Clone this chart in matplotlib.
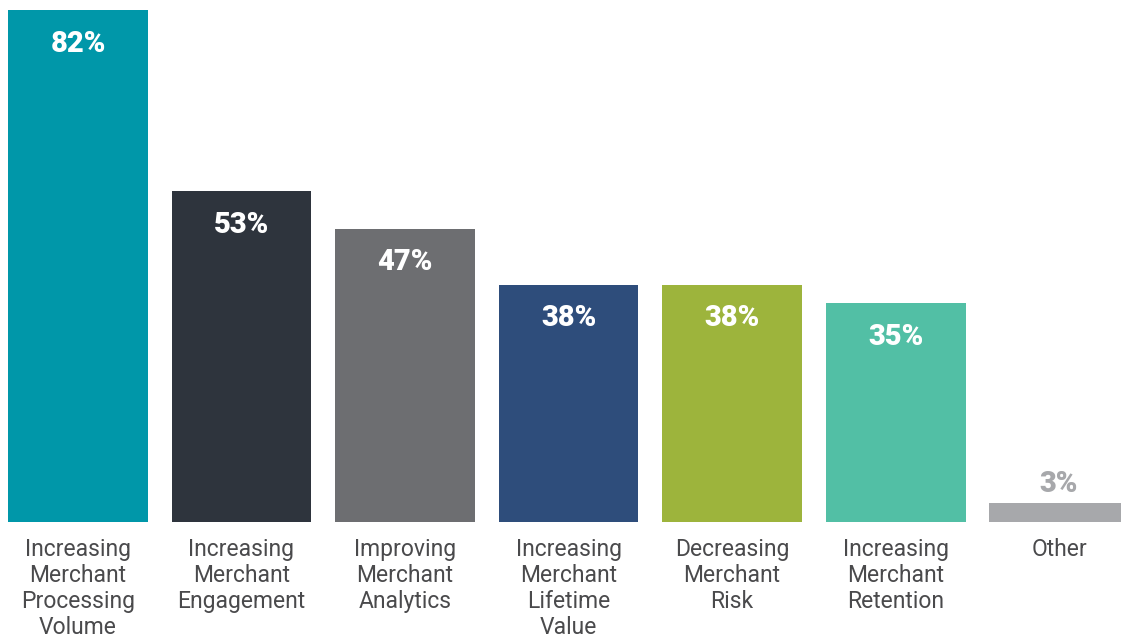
import matplotlib.pyplot as plt
import numpy as np

categories = [
    "Increasing\nMerchant\nProcessing\nVolume",
    "Increasing\nMerchant\nEngagement",
    "Improving\nMerchant\nAnalytics",
    "Increasing\nMerchant\nLifetime\nValue",
    "Decreasing\nMerchant\nRisk",
    "Increasing\nMerchant\nRetention",
    "Other",
]
values = [82, 53, 47, 38, 38, 35, 3]
colors = ["#0097A9", "#2E343D", "#6D6E71", "#2E4D7B", "#9DB43C", "#52BFA5", "#A7A8AB"]

plt.rcParams['font.family'] = ['Roboto', 'DejaVu Sans']

fig = plt.figure(figsize=(11.21, 6.36), dpi=100)
fig.patch.set_facecolor('white')
ax = fig.add_axes([0, 114 / 636, 1, 522 / 636])

x = np.arange(len(values))
ax.bar(x, values, width=0.856, color=colors)

ax.set_xlim(-0.477, 6.379)
ax.set_ylim(0, 82 * 522 / 512)
ax.axis('off')

# percentage labels: inside the bar for tall bars, above it for the small one
for xi, v in zip(x, values):
    if v > 10:
        ax.annotate(f"{v}%", (xi, v), xytext=(0, -24.3), textcoords='offset points',
                    ha='center', va='center', color='white', fontsize=21,
                    fontweight='heavy')
    else:
        ax.annotate(f"{v}%", (xi, v), xytext=(0, 14.0), textcoords='offset points',
                    ha='center', va='center', color='#A7A8AB', fontsize=21,
                    fontweight='heavy')

# category names under the baseline
for xi, name in zip(x, categories):
    ax.annotate(name, (xi, 0), xytext=(0, -11.5), textcoords='offset points',
                ha='center', va='top', color='#4A4A4C', fontsize=16.5,
                fontweight='normal', linespacing=1.17, annotation_clip=False)

fig.savefig('out.png', dpi=100, facecolor='white')
